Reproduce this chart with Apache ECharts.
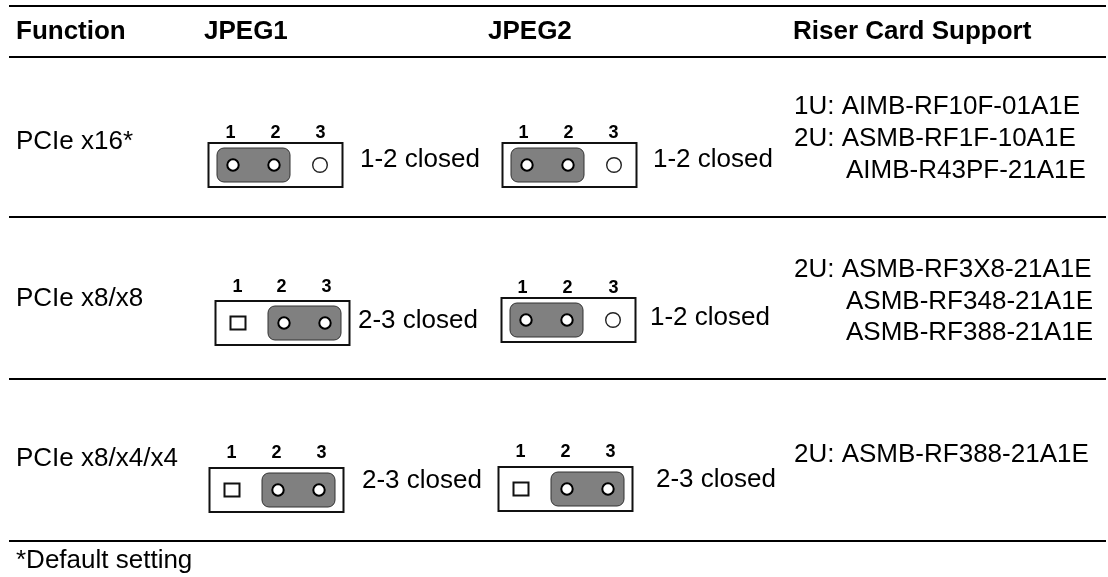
<!DOCTYPE html>
<html>
<head>
<meta charset="utf-8">
<style>html,body{margin:0;padding:0;background:#fff}#c{width:1108px;height:577px}</style>
<script src="https://cdn.jsdelivr.net/npm/echarts@6/dist/echarts.min.js"></script>
</head>
<body>
<div id="c"></div>
<script>
// ---- content ----
const headers = ['Function', 'JPEG1', 'JPEG2', 'Riser Card Support'];
const functions = ['PCIe x16*', 'PCIe x8/x8', 'PCIe x8/x4/x4'];
const jpeg1Closed = ['1-2', '2-3', '2-3'];
const jpeg2Closed = ['1-2', '1-2', '2-3'];
const riserCards = [
  ['1U: AIMB-RF10F-01A1E', '2U: ASMB-RF1F-10A1E', 'AIMB-R43PF-21A1E'],
  ['2U: ASMB-RF3X8-21A1E', 'ASMB-RF348-21A1E', 'ASMB-RF388-21A1E'],
  ['2U: ASMB-RF388-21A1E']
];
const footnote = '*Default setting';
const pinNames = ['1', '2', '3'];

// ---- layout (in the units of the hidden page axes) ----
const W = 1108, H = 577;
const FONT = '"Liberation Sans", Arial, sans-serif';
const ruleYs = [6, 57, 217, 379, 541];
const headerX = [16, 204, 488, 793];
const headerBase = 39;
const functionBase = [149, 306, 466];
const riserX = [[794, 794, 846], [794, 846, 846], [794]];
const riserBase = [[114, 146, 178], [277, 309, 340], [462]];
const footBase = 568;
// per jumper: box left, box top, digit baseline, closed label x, closed label baseline
const jumperLayout = [
  [208.5, 143, 138, 360, 167], [215.5, 301, 292, 358, 328], [209.5, 468, 458, 362, 488],
  [502.5, 143, 138, 653, 167], [501.5, 298, 293, 650, 325], [498.5, 467, 457, 656, 487]
];
const digitOffset = [[22, 67, 112], [22, 66, 111], [22, 67, 112], [21, 66, 111], [21, 66, 112], [22, 67, 112]];

function txt(api, x, base, text, size, weight) {
  const p = api.coord([x, base]);
  return {
    type: 'text',
    style: {
      text: text, x: p[0], y: p[1] - size * 0.29,
      fill: '#000', font: (weight || 'normal') + ' ' + size + 'px ' + FONT,
      align: 'left', verticalAlign: 'middle'
    }
  };
}

function renderRule(params, api) {
  const y = api.value(0);
  const a = api.coord([9, y]), b = api.coord([1106, y]);
  return { type: 'line', shape: { x1: a[0], y1: a[1], x2: b[0], y2: b[1] }, style: { stroke: '#000', lineWidth: 2 } };
}

function renderLabel(params, api) {
  const d = labels[params.dataIndex];
  return txt(api, d[0], d[1], d[2], 26, d[3]);
}

function renderJumper(params, api) {
  const i = params.dataIndex;
  const closed = jumpers[i];
  const [bx, by, digitBase, lx, lb] = jumperLayout[i];
  const o = api.coord([bx, by]);
  const ox = o[0], oy = o[1];
  const cy = oy + 22;
  const first = closed === '1-2';
  const pins = first ? [24.5, 65.5, 111.5] : [22.5, 68.5, 109.5];
  const capX = first ? 8.5 : 52.5;
  const kids = [
    { type: 'rect', shape: { x: ox, y: oy, width: 134, height: 44 }, style: { fill: '#fff', stroke: '#111', lineWidth: 2 } },
    { type: 'rect', shape: { x: ox + capX, y: oy + 5, width: 73, height: 34, r: 7 }, style: { fill: '#808080', stroke: '#333', lineWidth: 1 } }
  ];
  pins.forEach(function (px, k) {
    const inCap = first ? k < 2 : k > 0;
    if (inCap) {
      kids.push({ type: 'circle', shape: { cx: ox + px, cy: cy, r: 5.7 }, style: { fill: '#fff', stroke: '#000', lineWidth: 2 } });
    } else if (first) {
      kids.push({ type: 'circle', shape: { cx: ox + px, cy: cy, r: 7.3 }, style: { fill: '#fff', stroke: '#222', lineWidth: 1.4 } });
    } else {
      kids.push({ type: 'rect', shape: { x: ox + px - 7.5, y: cy - 6.5, width: 15, height: 13 }, style: { fill: '#fff', stroke: '#111', lineWidth: 2 } });
    }
  });
  pinNames.forEach(function (n, k) {
    const t = txt(api, bx + digitOffset[i][k], digitBase, n, 18, 'bold');
    t.style.align = 'center';
    kids.push(t);
  });
  kids.push(txt(api, lx, lb, closed + ' closed', 26));
  return { type: 'group', children: kids };
}

// ---- flatten content into drawable rows ----
const jumpers = jpeg1Closed.concat(jpeg2Closed);
const labels = [];
headers.forEach(function (h, i) { labels.push([headerX[i], headerBase, h, 'bold']); });
functions.forEach(function (f, i) { labels.push([16, functionBase[i], f]); });
riserCards.forEach(function (lines, r) {
  lines.forEach(function (l, k) { labels.push([riserX[r][k], riserBase[r][k], l]); });
});
labels.push([16, footBase, footnote]);

const chart = echarts.init(document.getElementById('c'), null, { renderer: 'canvas' });
chart.setOption({
  animation: false,
  backgroundColor: '#fff',
  grid: { left: 0, right: 0, top: 0, bottom: 0 },
  xAxis: { type: 'value', min: 0, max: W, show: false },
  yAxis: { type: 'value', min: 0, max: H, inverse: true, show: false },
  tooltip: { show: false },
  series: [
    { type: 'custom', name: 'rules', coordinateSystem: 'cartesian2d', clip: false, silent: true,
      encode: { x: 0, y: 0 }, data: ruleYs.map(function (y) { return [y]; }), renderItem: renderRule },
    { type: 'custom', name: 'jumpers', coordinateSystem: 'cartesian2d', clip: false, silent: true,
      data: jumpers.map(function (c, i) { return [i]; }), renderItem: renderJumper },
    { type: 'custom', name: 'labels', coordinateSystem: 'cartesian2d', clip: false, silent: true,
      data: labels.map(function (l, i) { return [i]; }), renderItem: renderLabel }
  ]
});
</script>
</body>
</html>
